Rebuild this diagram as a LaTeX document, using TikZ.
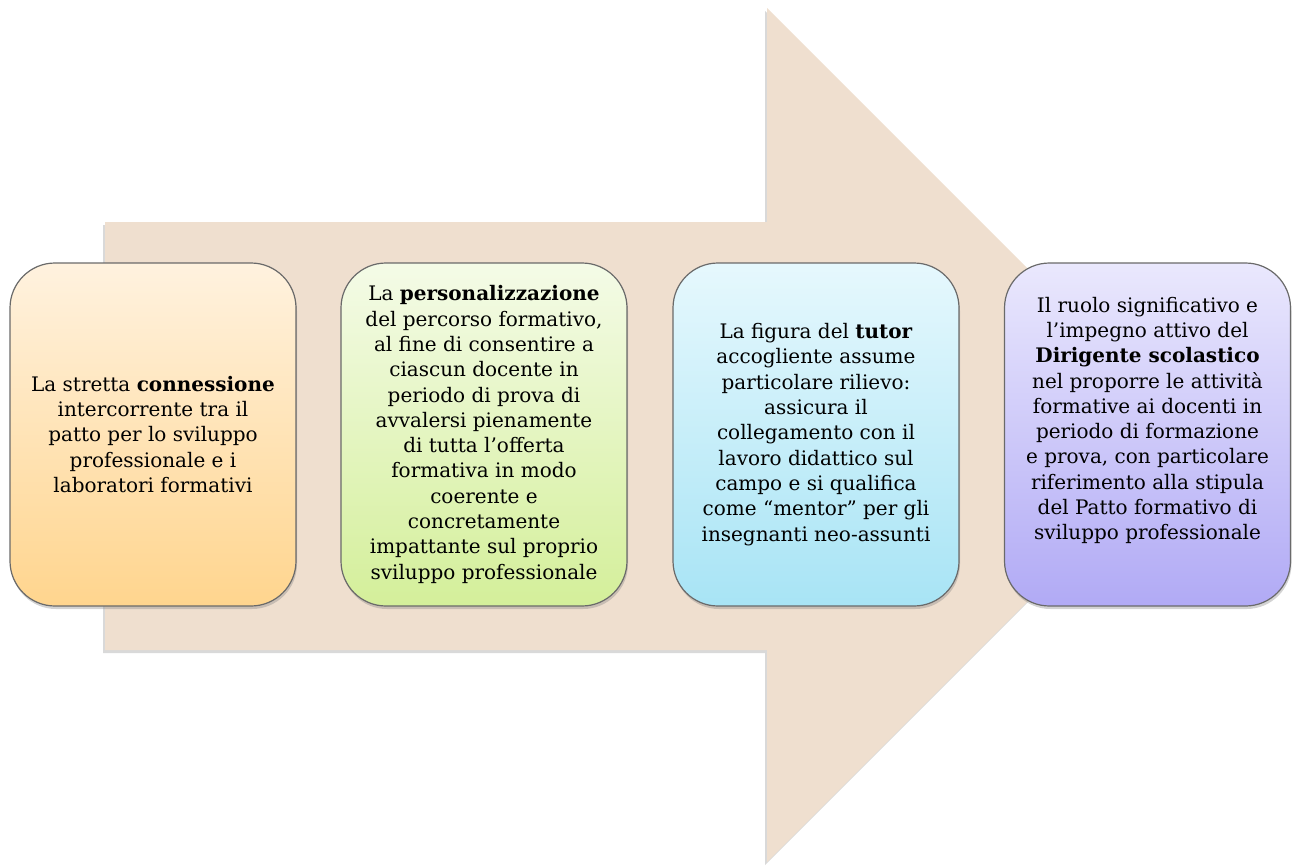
\documentclass[tikz,border=0pt]{standalone}
\usepackage{fontspec}
\setmainfont{DejaVu Serif}
\usepackage{xcolor}
\usepackage{tikz}
\usetikzlibrary{shadows}

\definecolor{arrowfill}{HTML}{EFDFCF}
\definecolor{cardline}{HTML}{6A6A6A}
\definecolor{orangetop}{HTML}{FFF2DF}
\definecolor{orangebot}{HTML}{FFD58E}
\definecolor{greentop}{HTML}{F4FBE7}
\definecolor{greenbot}{HTML}{D4EF9A}
\definecolor{bluetop}{HTML}{E6F8FD}
\definecolor{bluebot}{HTML}{A8E4F5}
\definecolor{violettop}{HTML}{EAE8FD}
\definecolor{violetbot}{HTML}{B1AAF5}

\tikzset{
  card/.style={draw=cardline, line width=1.2pt, rounded corners=45pt,
    minimum width=286pt, minimum height=343pt,
    drop shadow={shadow xshift=1pt, shadow yshift=-3pt, opacity=0.35}},
  cardtext/.style={align=center, inner sep=0pt,
    font=\fontsize{20}{25.3}\selectfont}
}

\begin{document}
\begin{tikzpicture}[x=1pt, y=-1pt]
\useasboundingbox (0,0) rectangle (1297,865);

\fill[arrowfill, drop shadow={shadow xshift=-2pt, shadow yshift=-3pt, opacity=0.3}]
  (105,222) -- (767,222) -- (767,8) -- (1194,435) -- (767,862) -- (767,650) -- (105,650) -- cycle;

\node[card, top color=orangetop, bottom color=orangebot] (c1) at (153,434.5) {};
\node[card, top color=greentop, bottom color=greenbot] (c2) at (484,434.5) {};
\node[card, top color=bluetop, bottom color=bluebot] (c3) at (816,434.5) {};
\node[card, top color=violettop, bottom color=violetbot] (c4) at (1147.5,434.5) {};

\node[cardtext] (t1) at (c1.center) {La stretta \textbf{connessione}\\intercorrente tra il\\patto per lo sviluppo\\professionale e i\\laboratori formativi};
\node[cardtext] (t2) at (c2.center) {La \textbf{personalizzazione}\\del percorso formativo,\\al fine di consentire a\\ciascun docente in\\periodo di prova di\\avvalersi pienamente\\di tutta l’offerta\\formativa in modo\\coerente e\\concretamente\\impattante sul proprio\\sviluppo professionale};
\node[cardtext] (t3) at (c3.center) {La figura del \textbf{tutor}\\accogliente assume\\particolare rilievo:\\assicura il\\collegamento con il\\lavoro didattico sul\\campo e si qualifica\\come “mentor” per gli\\insegnanti neo-assunti};
\node[cardtext] (t4) at ([yshift=14pt]c4.center) {Il ruolo significativo e\\l’impegno attivo del\\\textbf{Dirigente scolastico}\\nel proporre le attività\\formative ai docenti in\\periodo di formazione\\e prova, con particolare\\riferimento alla stipula\\del Patto formativo di\\sviluppo professionale};

\end{tikzpicture}
\end{document}
